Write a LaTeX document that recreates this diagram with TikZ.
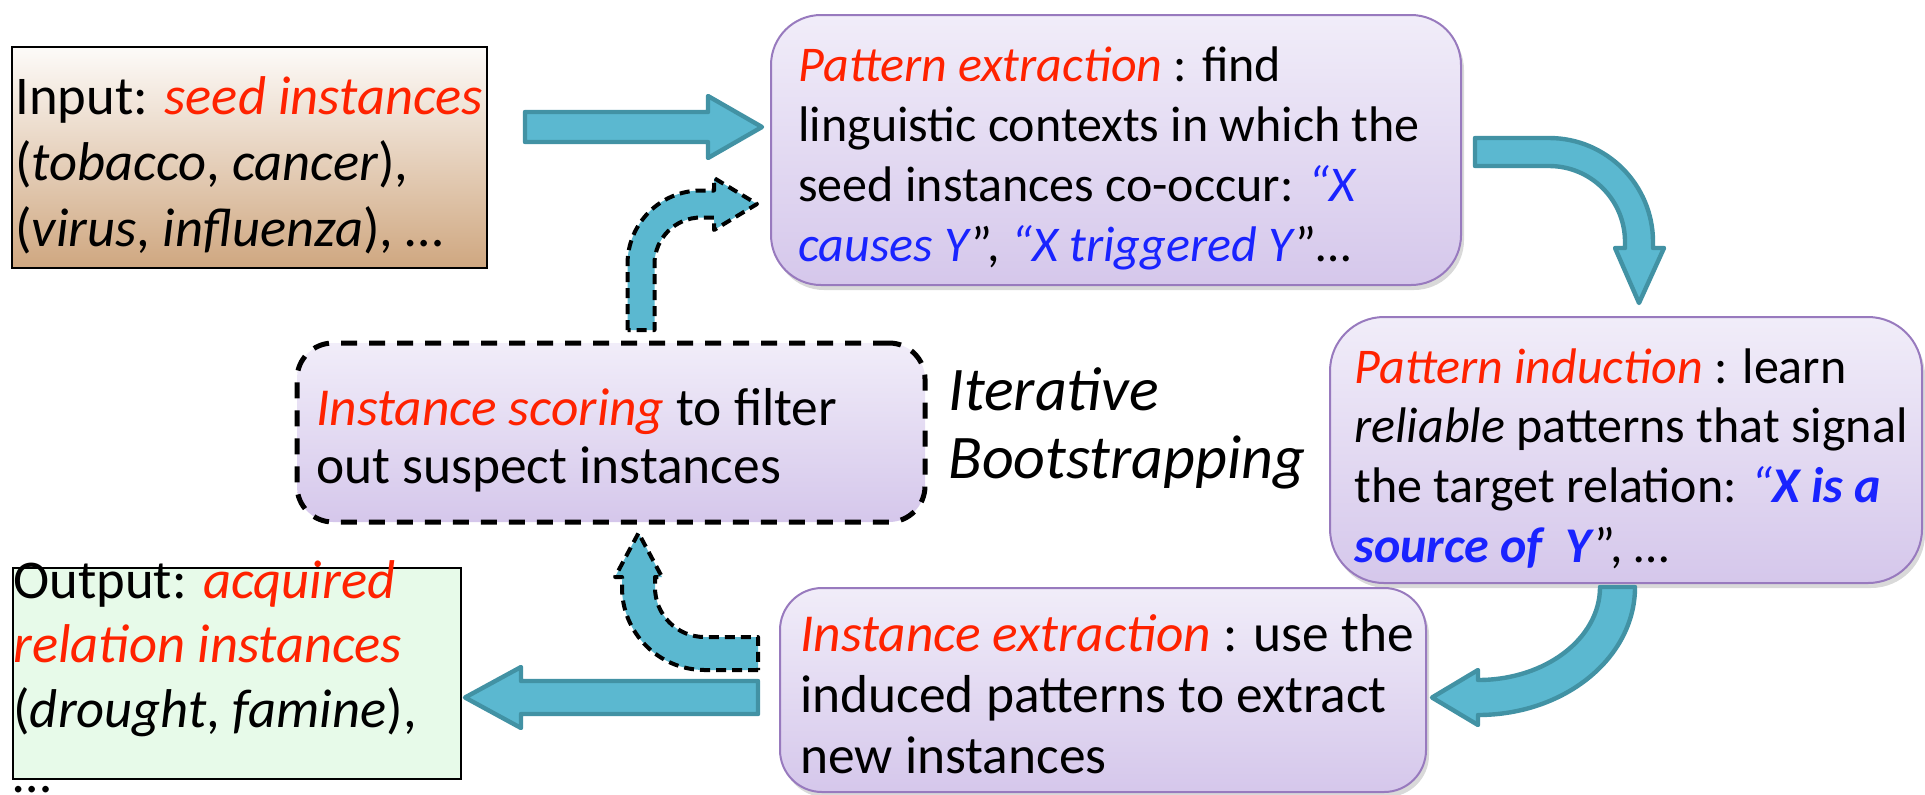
\documentclass[tikz,border=0pt]{standalone}
\usepackage{fontspec}
\setmainfont{Carlito}
\usetikzlibrary{shadows}
\definecolor{myred}{RGB}{255,34,0}
\definecolor{myblue}{RGB}{25,35,255}
\definecolor{boxtop}{RGB}{241,237,249}
\definecolor{boxbot}{RGB}{213,199,235}
\definecolor{boxline}{RGB}{152,122,190}
\definecolor{intop}{RGB}{253,251,249}
\definecolor{inbot}{RGB}{207,167,128}
\definecolor{outfill}{RGB}{231,250,233}
\definecolor{arrfill}{RGB}{91,184,208}
\definecolor{arrline}{RGB}{66,146,164}
\newcommand\redt[1]{\textcolor{myred}{#1}}
\newcommand\bluet[1]{\textcolor{myblue}{#1}}
\begin{document}
\begin{tikzpicture}[x=0.5pt,y=-0.5pt,
  pbox/.style={draw=boxline, line width=1pt, top color=boxtop, bottom color=boxbot,
    drop shadow={shadow xshift=1.5pt, shadow yshift=-2.5pt, opacity=0.3}},
  scbox/.style={draw=black, line width=2.5pt, dash pattern=on 8pt off 6pt,
    rounded corners=18pt, top color=boxtop, bottom color=boxbot},
  inbox/.style={draw=black, line width=1.2pt, top color=intop, bottom color=inbot},
  outbox/.style={draw=black, line width=1.2pt, fill=outfill},
  txt/.style={anchor=base west, inner sep=0pt, align=left},
  blockarrow/.style={fill=arrfill, draw=arrline, line width=2.2pt, line join=round},
  dasharrow/.style={fill=arrfill, draw=black, line width=2pt, dash pattern=on 5pt off 3pt, line join=round}
]
\useasboundingbox (0,0) rectangle (1925,794);

% boxes
\node[inbox, minimum width=237.5pt, minimum height=110.5pt] (in) at (249.5,157.5) {};
\node[outbox, minimum width=224pt, minimum height=105.5pt] (out) at (237,673.5) {};
\node[pbox, rounded corners=25pt, minimum width=345pt, minimum height=135pt] (pe) at (1116,150) {};
\node[pbox, rounded corners=27pt, minimum width=296pt, minimum height=133pt] (pi) at (1626,450) {};
\node[pbox, rounded corners=21pt, minimum width=323pt, minimum height=102pt] (ie) at (1103,690) {};
\node[scbox, minimum width=314pt, minimum height=89.5pt] (sc) at (611,432.5) {};

% texts (anchored at the baseline of the last line)
\node[txt, font=\fontsize{27.3}{33}\selectfont] (intext) at (15,246)
  {Input: \redt{\textit{seed instances}}\\(\textit{tobacco}, \textit{cancer}),\\(\textit{virus}, \textit{influenza}), …};
\node[txt, font=\fontsize{27.3}{32.3}\selectfont] (outtext) at (13,792)
  {Output: \redt{\textit{acquired}}\\\redt{\textit{relation instances}}\\(\textit{drought}, \textit{famine}),\\…};
\node[txt, font=\fontsize{25}{30}\selectfont] (petext) at (798,261)
  {\redt{\textit{Pattern extraction}} : find\\linguistic contexts in which the\\seed instances co-occur: \bluet{\textit{“X}}\\\bluet{\textit{causes Y}}”, \bluet{\textit{“X triggered Y}}”…};
\node[txt, font=\fontsize{25}{29.8}\selectfont] (pitext) at (1354,562)
  {\redt{\textit{Pattern induction}} : learn\\\textit{reliable} patterns that signal\\the target relation: \bluet{\textit{“\textbf{X is a}}}\\\bluet{\textit{\textbf{source of\ \ Y}}}”, …};
\node[txt, font=\fontsize{26.7}{30.5}\selectfont] (ietext) at (800,773)
  {\redt{\textit{Instance extraction}} : use the\\induced patterns to extract\\new instances};
\node[txt, font=\fontsize{26.7}{29}\selectfont] (sctext) at (316,483)
  {\redt{\textit{Instance scoring}} to filter\\out suspect instances};
\node[txt, font=\fontsize{31}{34}\selectfont\itshape] (iter) at (948,478)
  {Iterative\\Bootstrapping};

% arrow: input -> pattern extraction
\draw[blockarrow] (525,112) -- (708,112) -- (708,96) -- (762,127) -- (708,158) -- (708,142) -- (525,142) -- cycle;
% arrow: instance extraction -> output
\draw[blockarrow] (758,681) -- (521,681) -- (521,667) -- (465,697.5) -- (521,728) -- (521,714) -- (758,714) -- cycle;
% curved arrow: pattern extraction -> pattern induction
\draw[blockarrow] (1475,138) -- (1549,138) .. controls (1606.4,138) and (1653,184.6) .. (1653,242)
  -- (1653,248) -- (1664,248) -- (1639,303) -- (1615,248) -- (1625,248) -- (1625,242)
  .. controls (1625,200) and (1591,166) .. (1549,166) -- (1475,166) -- cycle;
% curved arrow: pattern induction -> instance extraction
\draw[blockarrow] (1600,587) -- (1635,587) .. controls (1635,657.7) and (1564.7,715) .. (1478,715)
  -- (1478,725) -- (1432,697.5) -- (1478,670) -- (1478,680)
  .. controls (1545.4,680) and (1600,638.4) .. (1600,587) -- cycle;
% dashed arrow: scoring -> pattern extraction
\draw[dasharrow] (627.5,330) -- (627.5,264) .. controls (627.5,223.4) and (660.4,190.5) .. (701,190.5)
  -- (714,190.5) -- (714,178) -- (757,204) -- (714,230) -- (714,217.5) -- (701,217.5)
  .. controls (675.3,217.5) and (654.5,238.3) .. (654.5,264) -- (654.5,330) -- cycle;
% dashed arrow: instance extraction -> scoring
\draw[dasharrow] (758,670) -- (704.5,670) .. controls (658.94,670) and (622,633.06) .. (622,587.5)
  -- (622,577) -- (615,577) -- (638.5,533) -- (662,577) -- (655,577) -- (655,587.5)
  .. controls (655,614.84) and (677.16,637) .. (704.5,637) -- (758,637) -- cycle;
\end{tikzpicture}
\end{document}
